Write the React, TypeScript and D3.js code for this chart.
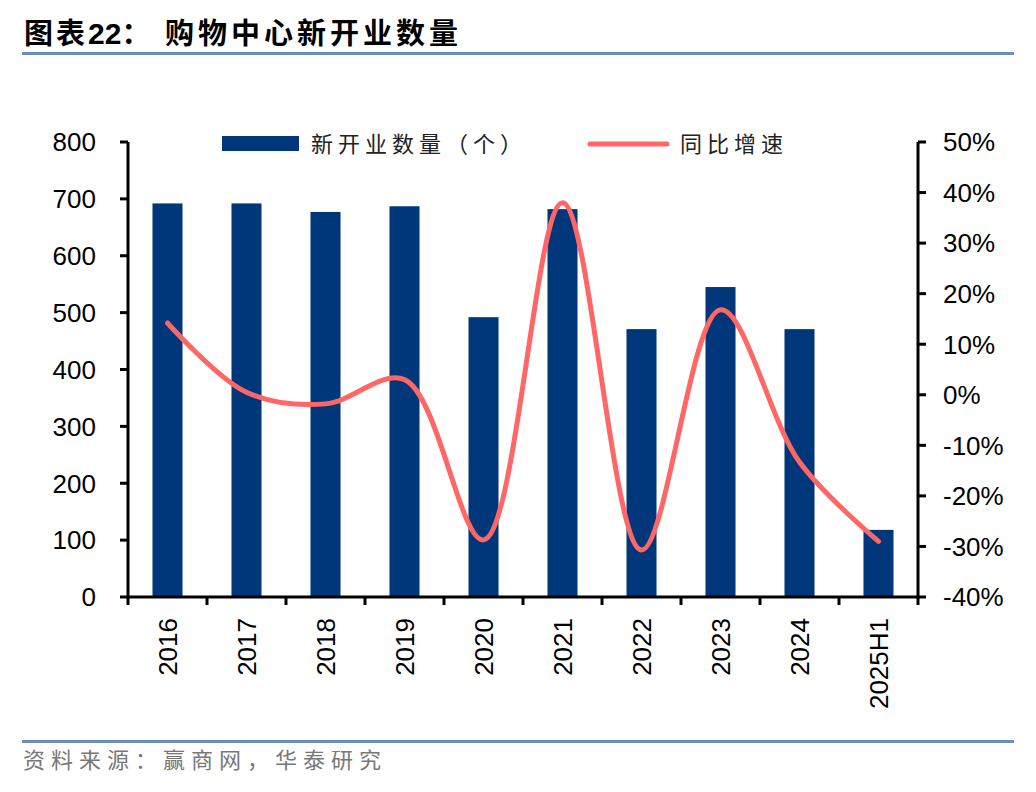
import React from 'react';
import * as d3 from 'd3';

// data
const categories = ['2016', '2017', '2018', '2019', '2020', '2021', '2022', '2023', '2024', '2025H1'];
const openings = [692, 692, 677, 687, 492, 682, 471, 545, 471, 118];
const growth = [14.2, 0.5, -1.8, 3.0, -28.7, 38.0, -30.7, 16.8, -13.3, -29.0];
const leftTicks = [0, 100, 200, 300, 400, 500, 600, 700, 800];
const rightTicks = [-40, -30, -20, -10, 0, 10, 20, 30, 40, 50];

const W = 1036;
const H = 792;
const plot = { left: 128, right: 918, top: 142, bottom: 597 };
const barColor = '#00377A';
const lineColor = '#FF6666';
const numFont = '"Liberation Sans", Arial, sans-serif';
const cjkFont = '"Noto Sans CJK SC", sans-serif';

export default function App() {
  const x = d3.scaleBand<string>()
    .domain(categories)
    .range([plot.left, plot.right])
    .paddingInner(0.62)
    .paddingOuter(0.31);
  const step = x.step();
  const yL = d3.scaleLinear().domain([0, 800]).range([plot.bottom, plot.top]);
  const yR = d3.scaleLinear().domain([-40, 50]).range([plot.bottom, plot.top]);

  const line = d3.line<number>()
    .x((_, i) => (x(categories[i]) ?? 0) + x.bandwidth() / 2)
    .y(d => yR(d))
    .curve(d3.curveCatmullRom.alpha(0.5));

  return (
    <svg width={W} height={H} style={{ position: 'absolute', left: 0, top: 0 }}>
      <rect width={W} height={H} fill="#fff" />
      {/* title */}
      <text x={24} y={44} fontFamily={cjkFont} fontWeight="bold" fontSize={29} fill="#000">
        <tspan letterSpacing={3}>图表</tspan>
        <tspan fontFamily={numFont} fontSize={30}>22</tspan>
        <tspan>：</tspan>
        <tspan x={165} letterSpacing={4}>购物中心新开业数量</tspan>
      </text>
      <rect x={22} y={52} width={992} height={3} fill="#6A8DBA" />

      {/* bars */}
      {openings.map((v, i) => (
        <rect key={categories[i]} x={x(categories[i])} y={yL(v)} width={x.bandwidth()}
          height={plot.bottom - yL(v)} fill={barColor} />
      ))}

      {/* growth line */}
      <path d={line(growth) ?? ''} fill="none" stroke={lineColor} strokeWidth={5} strokeLinecap="round" />

      {/* left axis */}
      <line x1={plot.left} x2={plot.left} y1={plot.top} y2={plot.bottom + 1.5} stroke="#000" strokeWidth={3} />
      {leftTicks.map(t => (
        <g key={t}>
          <line x1={plot.left - 8} x2={plot.left} y1={yL(t)} y2={yL(t)} stroke="#000" strokeWidth={3} />
          <text x={96} y={yL(t)} dy="0.36em" textAnchor="end" fontFamily={numFont} fontSize={26}>{t}</text>
        </g>
      ))}

      {/* right axis */}
      <line x1={plot.right} x2={plot.right} y1={plot.top} y2={plot.bottom + 1.5} stroke="#000" strokeWidth={3} />
      {rightTicks.map(t => (
        <g key={t}>
          <line x1={plot.right} x2={plot.right + 8} y1={yR(t)} y2={yR(t)} stroke="#000" strokeWidth={3} />
          <text x={943} y={yR(t)} dy="0.36em" textAnchor="start" fontFamily={numFont} fontSize={26}>{t}%</text>
        </g>
      ))}

      {/* x axis */}
      <line x1={plot.left} x2={plot.right} y1={plot.bottom} y2={plot.bottom} stroke="#000" strokeWidth={3} />
      {d3.range(categories.length + 1).map(i => (
        <line key={i} x1={plot.left + i * step} x2={plot.left + i * step} y1={plot.bottom} y2={plot.bottom + 8}
          stroke="#000" strokeWidth={3} />
      ))}
      {categories.map(c => {
        const cx = (x(c) ?? 0) + x.bandwidth() / 2;
        return (
          <text key={c} transform={`translate(${cx},618) rotate(-90)`} dy="0.36em" textAnchor="end"
            fontFamily={numFont} fontSize={26}>{c}</text>
        );
      })}

      {/* legend */}
      <rect x={222} y={136} width={77} height={15} fill={barColor} />
      <text x={311} y={152} fontFamily={cjkFont} fontSize={22} fill="#222" letterSpacing={5}>新开业数量（个）</text>
      <line x1={590} x2={667} y1={144} y2={144} stroke={lineColor} strokeWidth={5} strokeLinecap="round" />
      <text x={680} y={152} fontFamily={cjkFont} fontSize={22} fill="#222" letterSpacing={5}>同比增速</text>

      {/* footer */}
      <rect x={22} y={740} width={992} height={3} fill="#6A8DBA" />
      <text x={23} y={768} fontFamily={cjkFont} fontSize={22} fill="#777" letterSpacing={6}>资料来源：赢商网，华泰研究</text>
    </svg>
  );
}
